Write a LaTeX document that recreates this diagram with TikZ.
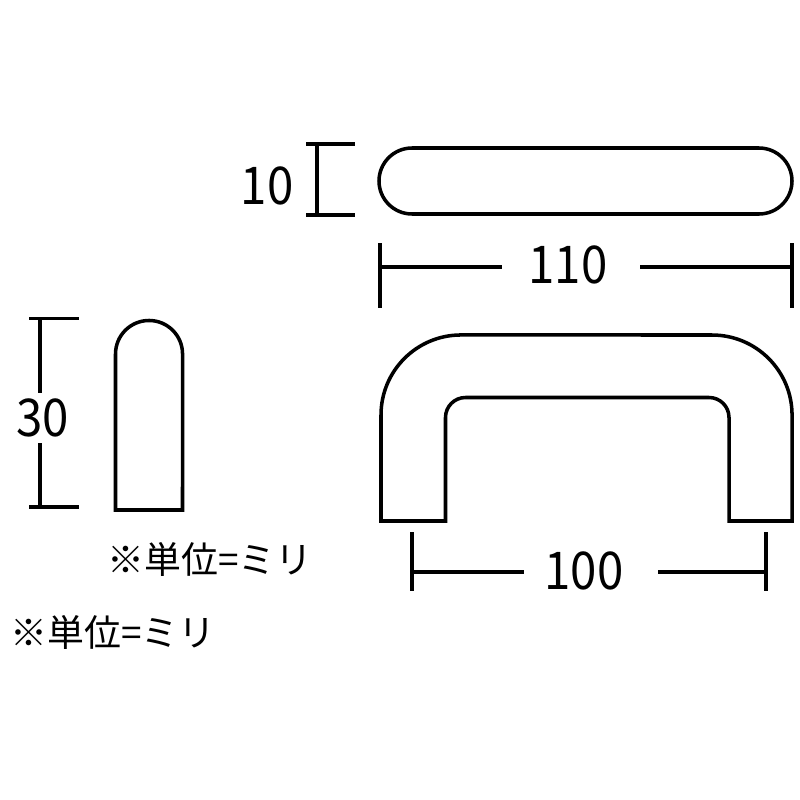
\documentclass[tikz,border=0pt]{standalone}
\usepackage{fontspec}
\setmainfont{Noto Sans CJK JP}
\newfontfamily\digitfont[FakeStretch=0.91]{Noto Sans CJK JP}
\tikzset{
	part/.style={line width=1pt,line join=miter},
	dimline/.style={line width=0.95pt},
	dimlabel/.style={inner sep=0pt,font=\digitfont\fontsize{14.8}{16}\selectfont},
	unitnote/.style={inner sep=0pt,font=\fontsize{10.5}{12}\selectfont}
}

\begin{document}
\begin{tikzpicture}[x=0.01cm,y=-0.01cm]
	\useasboundingbox (0,0) rectangle (800,800);
	
	%TOP VIEW
	\draw[part,rounded corners=3.3mm] (379,148) rectangle (792,214);
	\draw[dimline] (306,144)--(355,144) (306,215)--(355,215) (317,144)--(317,215);
	\node[dimlabel] (width) at (267,186) {10};
	
	%LENGTH
	\node[dimlabel] (length) at (568,265) {110};
	\coordinate (lengthl) at (380,267);
	\coordinate (lengthr) at (792,267);
	\draw[dimline] (380,243)--(380,308) (792,243)--(792,308);
	\draw[dimline] (lengthl)--(502,267) (640,267)--(lengthr);
	
	%FRONT VIEW
	\draw[part] (381,521)--(381,415) arc[start angle=180,end angle=90,radius=8mm]--(712,335)
		arc[start angle=90,end angle=0,radius=8mm]--(792,521)--(729,521)--(729,417.5)
		arc[start angle=0,end angle=90,radius=2mm]--(465.5,397.5)
		arc[start angle=90,end angle=180,radius=2mm]--(445.5,521)--cycle;
	
	%SPAN
	\node[dimlabel] (span) at (584,571) {100};
	\coordinate (spanl) at (412,572);
	\coordinate (spanr) at (766,572);
	\draw[dimline] (412,532)--(412,591) (766,532)--(766,591);
	\draw[dimline] (spanl)--(524,572) (658,572)--(spanr);
	
	%SIDE VIEW
	\draw[part] (115.5,510)--(115.5,354) arc[start angle=180,end angle=0,radius=3.35mm]--(182.5,510)--cycle;
	\draw[dimline] (29,318.5)--(79,318.5) (29,507)--(79,507);
	\draw[dimline] (40,318.5)--(40,393) (40,443)--(40,507);
	\node[dimlabel] (height) at (43,418) {30};
	
	%NOTES
	\node[unitnote,anchor=west] (note1) at (107,559) {※単位=ミリ};
	\node[unitnote,anchor=west] (note2) at (10,632) {※単位=ミリ};
\end{tikzpicture}
\end{document}
